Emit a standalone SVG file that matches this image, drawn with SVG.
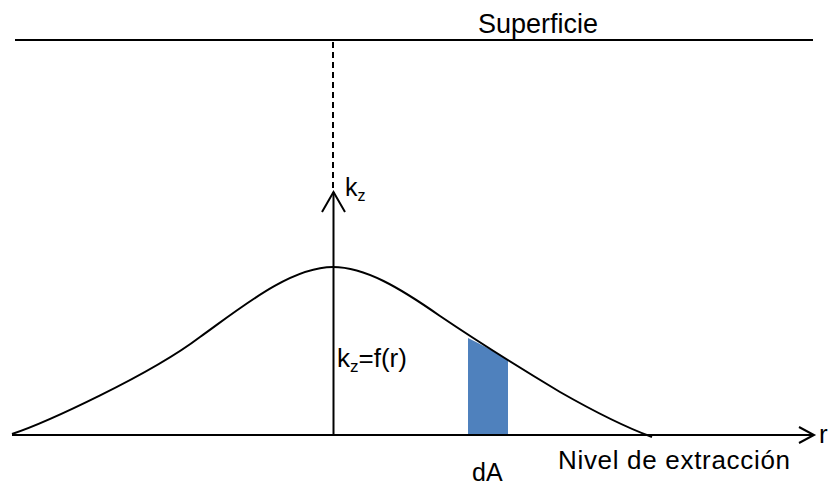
<svg xmlns="http://www.w3.org/2000/svg" width="828" height="488" viewBox="0 0 828 488">
<style>
.ln{stroke:#000;stroke-width:2;fill:none}
.t{font-family:"Liberation Sans",Arial,sans-serif;fill:#000}
</style>
<rect width="828" height="488" fill="#fff"/>
<g id="surface">
<line class="ln" x1="15" y1="40" x2="813" y2="40"/>
<text class="t" x="478" y="33" font-size="27">Superficie</text>
</g>
<g id="area">
<path d="M468,338 C482,345 496,352 508,360 L508,434 L468,436 Z" fill="#4F81BD"/>
</g>
<g id="connectors">
<line class="ln" x1="333" y1="42" x2="333" y2="192" stroke-dasharray="6,4"/>
<line class="ln" x1="333.5" y1="436" x2="333.5" y2="192"/>
<polyline class="ln" points="322,212 333.5,192 345,212"/>
<line class="ln" x1="12" y1="435" x2="813" y2="435"/>
<polyline class="ln" points="799,427 814,435 799,443"/>
</g>
<g id="curve">
<path class="ln" d="M12,434 C45,423 150,375 200,337 C240,308.5 290,267 333,267 C365,267 400,288 440,316 C480,343 520,368 560,392 C595,412 625,427 652,437"/>
</g>
<g id="labels">
<text class="t" x="345" y="196" font-size="25">k<tspan font-size="16" dy="5">z</tspan></text>
<text class="t" x="337" y="367" font-size="26">k<tspan font-size="17" dy="5">z</tspan><tspan dy="-5">=f(r)</tspan></text>
<text class="t" x="819" y="443" font-size="26">r</text>
<text class="t" x="558" y="469" font-size="26" textLength="232">Nivel de extracción</text>
<text class="t" x="472" y="481" font-size="25">dA</text>
</g>
</svg>
